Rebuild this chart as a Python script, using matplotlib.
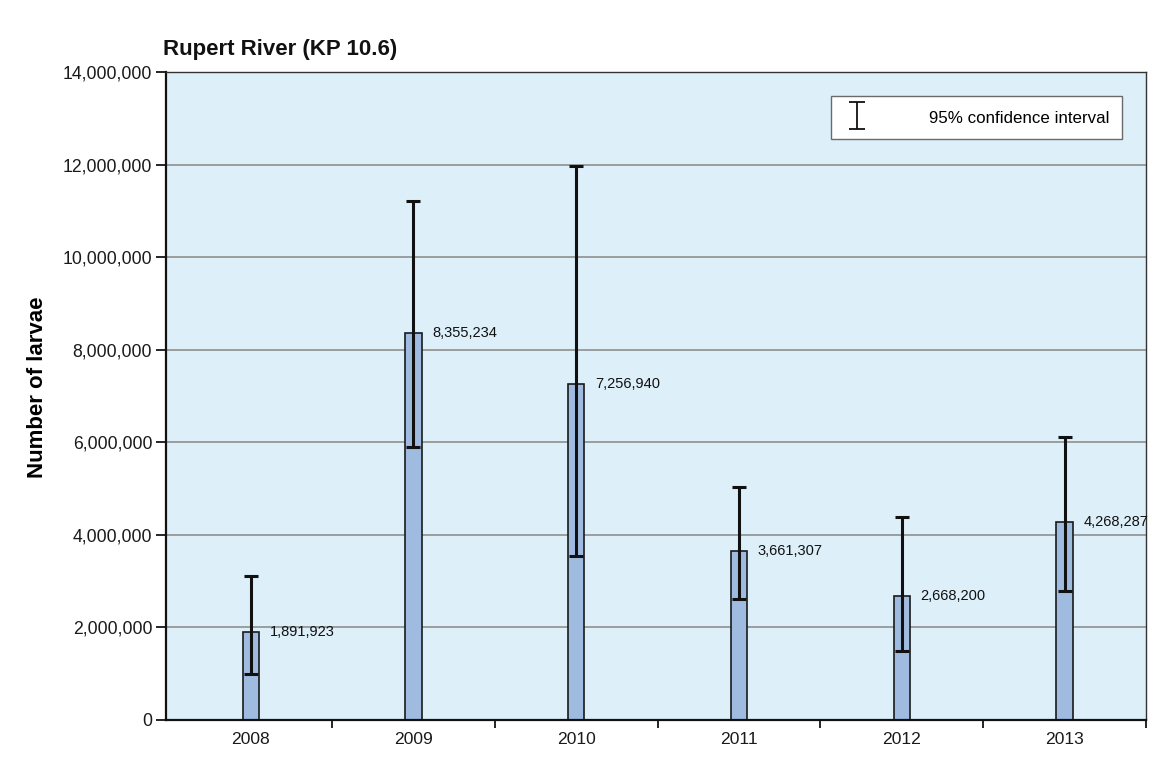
import numpy as np
import matplotlib
matplotlib.use("Agg")
import matplotlib.pyplot as plt
from matplotlib.ticker import FuncFormatter, MultipleLocator, FixedLocator
from matplotlib.container import ErrorbarContainer
from matplotlib.legend_handler import HandlerErrorbar

plt.rcParams['font.family'] = ['Liberation Sans', 'DejaVu Sans']

years = ['2008', '2009', '2010', '2011', '2012', '2013']
larvae = [1891923, 8355234, 7256940, 3661307, 2668200, 4268287]
ci_low = [990000, 5900000, 3550000, 2620000, 1490000, 2790000]
ci_high = [3100000, 11220000, 11960000, 5040000, 4390000, 6110000]

x = np.arange(len(years))
lower_err = np.array(larvae) - np.array(ci_low)
upper_err = np.array(ci_high) - np.array(larvae)

fig = plt.figure(figsize=(11.57, 7.57), dpi=100)
ax = fig.add_axes([0.1435, 0.0489, 0.847, 0.856])
ax.set_facecolor('#ddeff9')

ax.bar(x, larvae, width=0.1, color='#9fbbe0', edgecolor='#1a1a1a', linewidth=1.2, zorder=2)
ax.errorbar(x, larvae, yerr=[lower_err, upper_err], fmt='none', ecolor='#111111',
            elinewidth=2.2, capsize=4.8, capthick=2.2, zorder=3)

# legend entry for the CI symbol (nan point, only used by the legend)
ax.errorbar([np.nan], [np.nan], yerr=[1.0], fmt='none', ecolor='#111111', elinewidth=1.3,
            capsize=5.5, capthick=1.3, label='95% confidence interval')
leg = ax.legend(loc='upper right', bbox_to_anchor=(0.9755, 0.963), borderaxespad=0,
                fontsize=12.2, handlelength=1.56, handleheight=1.34, handletextpad=3.5,
                borderpad=0.72, fancybox=False, framealpha=1, edgecolor='#6a6a6a',
                handler_map={ErrorbarContainer: HandlerErrorbar(yerr_size=0.8)})
leg.get_frame().set_linewidth(1.0)

for xi, v in zip(x, larvae):
    ax.text(xi + 0.115, v, f'{v:,}', fontsize=10.5, va='center', ha='left',
            color='#111111', zorder=4)

ax.set_xlim(-0.52, 5.5)
ax.set_ylim(0, 14000000)
ax.yaxis.set_major_locator(MultipleLocator(2000000))
ax.yaxis.set_major_formatter(FuncFormatter(lambda v, p: f'{int(v):,}'))
ax.grid(axis='y', color='#8f8f8f', linewidth=1.2, zorder=1)
ax.set_axisbelow(True)

ax.set_xticks(x)
ax.set_xticklabels(years)
ax.xaxis.set_minor_locator(FixedLocator(np.arange(0.5, 6.0, 1.0)))
ax.tick_params(axis='x', which='major', length=0, pad=9, labelsize=12.6, labelcolor='#1a1a1a')
ax.tick_params(axis='x', which='minor', length=6, width=1.2, direction='out')
ax.tick_params(axis='y', length=7, width=1.2, direction='out', labelsize=12.7,
               labelcolor='#1a1a1a', pad=3)

for side in ['left', 'bottom']:
    ax.spines[side].set_linewidth(1.6)
    ax.spines[side].set_color('#111111')
for side in ['top', 'right']:
    ax.spines[side].set_linewidth(1.0)
    ax.spines[side].set_color('#333333')

ax.set_ylabel('Number of larvae', fontsize=16, fontweight='bold')
ax.yaxis.set_label_coords(-0.120, 0.514)
fig.text(163 / 1157, 1 - 50 / 757, 'Rupert River (KP 10.6)', fontsize=16,
         fontweight='bold', ha='left', va='center', color='#111111')

fig.savefig('out.png', dpi=100)
